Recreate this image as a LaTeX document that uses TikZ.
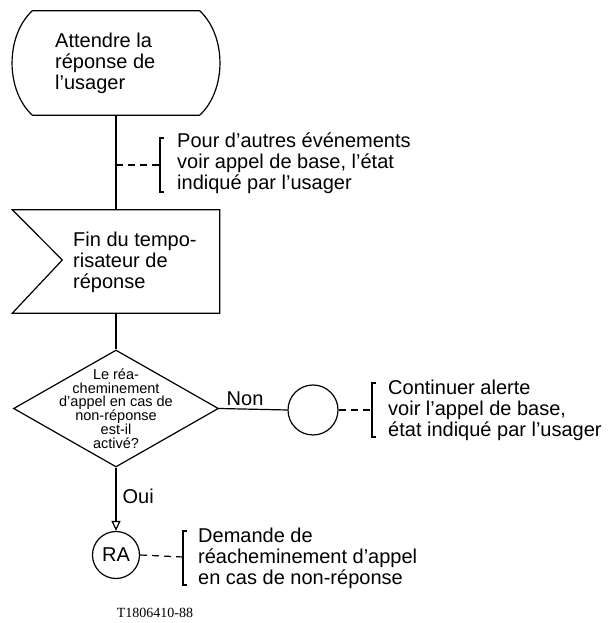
\documentclass[tikz,border=0pt]{standalone}
\usepackage{fontspec}
\setmainfont{Liberation Sans}
\newfontfamily\codefont{Liberation Serif}
\usetikzlibrary{shapes.geometric}
\usetikzlibrary{arrows.meta}

\begin{document}
\begin{tikzpicture}
	[x=1pt,y=1pt,every node/.style={inner sep=0pt},
	 txt/.style={align=left, anchor=west, font=\fontsize{20}{21}\selectfont},
	 lab/.style={font=\fontsize{20}{21}\selectfont},
	 small/.style={align=center, font=\fontsize{14.5}{13.8}\selectfont},
	 frame/.style={rectangle, minimum width=207pt},
	 dot/.style={circle, draw=black, line width=1.2pt},
	 link/.style={line width=1.2pt, color=black},
	 hint/.style={line width=1.2pt, color=black, dash pattern=on 7pt off 5pt}]
	\useasboundingbox (0,0) rectangle (615,623);
	\node (wait) [frame, minimum height=104pt] at (116,560) {};
	\node (timer) [frame, minimum height=103pt] at (116,361.5) {};
	\node (ask) [diamond, draw=black, line width=1.2pt, minimum width=205pt, minimum height=117pt] at (116,214.5) {};
	\node (cont) [dot, minimum size=50pt] at (313,213) {};
	\node (ra) [dot, lab, minimum size=47pt] at (116,68) {RA};
	\draw [link] ([xshift=20pt]wait.north west) -- ([xshift=-20pt]wait.north east) .. controls +(27,-25) and +(27,25) .. ([xshift=-20pt]wait.south east) -- ([xshift=20pt]wait.south west) .. controls +(-27,25) and +(-27,-25) .. cycle;
	\draw [link] (timer.north west) -- (timer.north east) -- (timer.south east) -- (timer.south west) -- ([xshift=50pt,yshift=1.5pt]timer.west) -- cycle;
	\node (waittxt) [txt] at (55,560) {Attendre la\\réponse de\\l’usager};
	\node (timertxt) [txt] at (73,361) {Fin du tempo-\\risateur de\\réponse};
	\node (asktxt) [small] at (ask.center) {Le réa-\\cheminement\\d’appel en cas de\\non-réponse\\est-il\\activé?};
	\node (note1) [txt] at (177,460) {Pour d’autres événements\\voir appel de base, l’état\\indiqué par l’usager};
	\node (note2) [txt] at (388,213) {Continuer alerte\\voir l’appel de base,\\état indiqué par l’usager};
	\node (note3) [txt] at (198,65) {Demande de\\réacheminement d’appel\\en cas de non-réponse};
	\node (tag) [font=\fontsize{14}{14}\codefont] at (155,10) {T1806410-88};
	\draw [link] (wait.south) -- (timer.north);
	\draw [link] (timer.south) -- (ask.north);
	\draw [link] (ask.east) -- node [lab, above=3pt, pos=0.38] (non) {Non} (cont.west);
	\draw [link, -{Triangle[open,width=9pt,length=10pt]}] (ask.south) -- node [lab, right=6pt, pos=0.46] (oui) {Oui} (ra.north);
	\coordinate (j1) at (116,458);
	\coordinate (b1) at (160,458);
	\coordinate (b2) at (372,213);
	\coordinate (b3) at (183,66);
	\draw [link] (164,485) -- (160,485) -- (160,431) -- (164,431);
	\draw [link] (376,240) -- (372,240) -- (372,186) -- (376,186);
	\draw [link] (187,92) -- (183,92) -- (183,38) -- (187,38);
	\draw [hint] (j1) -- (b1);
	\draw [hint] (cont.east) -- (b2);
	\draw [hint] (ra.east) -- (b3);
\end{tikzpicture}
\end{document}
